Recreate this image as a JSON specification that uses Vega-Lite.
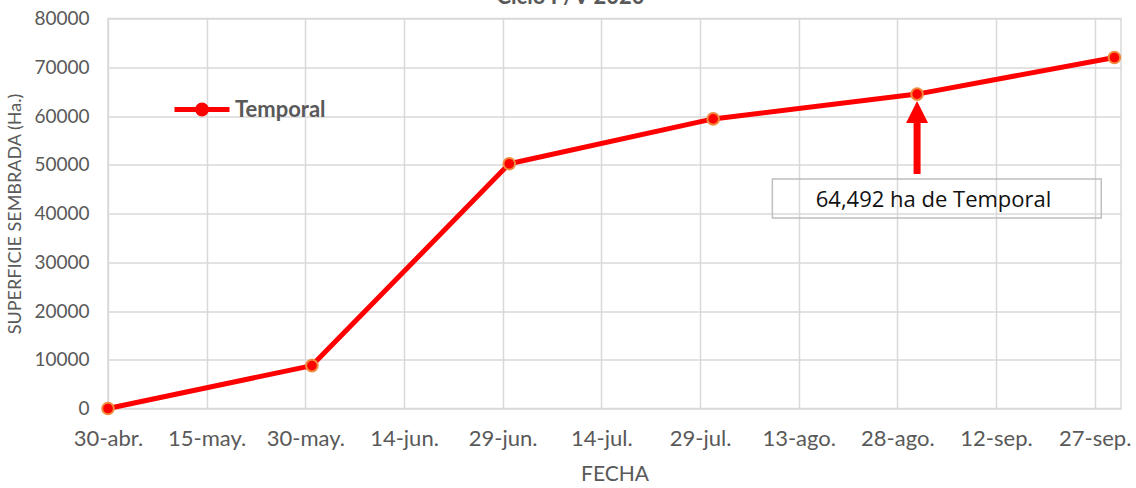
{
  "$schema": "https://vega.github.io/schema/vega-lite/v6.json",
  "autosize": "none",
  "width": 1013,
  "height": 390,
  "padding": {"left": 108, "top": 18.5, "right": 15, "bottom": 79.5},
  "background": "white",
  "config": {
    "view": {"stroke": "#D9D9D9", "strokeWidth": 1.5},
    "font": "Lato"
  },
  "title": {
    "text": "Ciclo P/V 2020",
    "font": "Lato",
    "fontSize": 22,
    "fontWeight": "bold",
    "color": "#595959",
    "anchor": "middle",
    "frame": "group",
    "dx": -44,
    "offset": -16,
    "baseline": "alphabetic"
  },
  "datasets": {
    "serie": [
      {"fecha": "2020-04-30", "superficie": 0, "serie": "Temporal"},
      {"fecha": "2020-05-31", "superficie": 8800, "serie": "Temporal"},
      {"fecha": "2020-06-30", "superficie": 50200, "serie": "Temporal"},
      {"fecha": "2020-07-31", "superficie": 59400, "serie": "Temporal"},
      {"fecha": "2020-08-31", "superficie": 64492, "serie": "Temporal"},
      {"fecha": "2020-09-30", "superficie": 72000, "serie": "Temporal"}
    ],
    "caja": [
      {"fecha": "2020-08-09", "fecha2": "2020-09-28", "superficie": 47100, "superficie2": 39100}
    ],
    "flecha": [
      {"fecha": "2020-08-31", "superficie": 58600, "superficie2": 48100}
    ],
    "punta": [
      {"fecha": "2020-08-31", "superficie": 60800}
    ],
    "nota": [
      {"fecha": "2020-09-02T12:00:00Z", "superficie": 42700, "etiqueta": "64,492 ha de Temporal"}
    ]
  },
  "encoding": {
    "x": {
      "field": "fecha",
      "type": "temporal",
      "title": "FECHA",
      "scale": {
        "type": "utc",
        "domain": [
          {"year": 2020, "month": 4, "date": 30, "utc": true},
          {"year": 2020, "month": 10, "date": 1, "utc": true}
        ]
      },
      "axis": {
        "values": [
          {"year": 2020, "month": 4, "date": 30, "utc": true},
          {"year": 2020, "month": 5, "date": 15, "utc": true},
          {"year": 2020, "month": 5, "date": 30, "utc": true},
          {"year": 2020, "month": 6, "date": 14, "utc": true},
          {"year": 2020, "month": 6, "date": 29, "utc": true},
          {"year": 2020, "month": 7, "date": 14, "utc": true},
          {"year": 2020, "month": 7, "date": 29, "utc": true},
          {"year": 2020, "month": 8, "date": 13, "utc": true},
          {"year": 2020, "month": 8, "date": 28, "utc": true},
          {"year": 2020, "month": 9, "date": 12, "utc": true},
          {"year": 2020, "month": 9, "date": 27, "utc": true}
        ],
        "labelExpr": "utcFormat(datum.value, '%d') + '-' + ['ene','feb','mar','abr','may','jun','jul','ago','sep','oct','nov','dic'][utcmonth(datum.value)] + '.'",
        "grid": true,
        "gridColor": "#D9D9D9",
        "gridWidth": 1.5,
        "domain": false,
        "ticks": false,
        "labelFont": "Lato",
        "labelFontSize": 22,
        "labelColor": "#595959",
        "labelPadding": 20,
        "labelFlush": false,
        "labelOverlap": false,
        "titleFont": "Lato",
        "titleFontSize": 21,
        "titleFontWeight": "normal",
        "titleColor": "#595959",
        "titlePadding": 14
      }
    },
    "y": {
      "field": "superficie",
      "type": "quantitative",
      "title": "SUPERFICIE SEMBRADA (Ha.)",
      "scale": {"domain": [0, 80000], "nice": false},
      "axis": {
        "values": [0, 10000, 20000, 30000, 40000, 50000, 60000, 70000, 80000],
        "format": "d",
        "grid": true,
        "gridColor": "#D9D9D9",
        "gridWidth": 1.5,
        "domain": false,
        "ticks": false,
        "labelFont": "Lato",
        "labelFontSize": 19,
        "labelColor": "#595959",
        "labelPadding": 19,
        "labelFlush": false,
        "titleFont": "Lato",
        "titleFontSize": 18,
        "titleFontWeight": "normal",
        "titleColor": "#595959",
        "titlePadding": 9
      }
    }
  },
  "layer": [
    {
      "data": {"name": "caja"},
      "mark": {"type": "rect", "fill": null, "fillOpacity": 0, "stroke": "#BFBFBF", "strokeWidth": 1.5},
      "encoding": {
        "x2": {"field": "fecha2"},
        "y2": {"field": "superficie2"}
      }
    },
    {
      "data": {"name": "serie"},
      "mark": {"type": "line", "strokeWidth": 5, "strokeCap": "round", "strokeJoin": "round"},
      "encoding": {
        "color": {
          "field": "serie",
          "type": "nominal",
          "scale": {"domain": ["Temporal"], "range": ["#FF0000"]},
          "legend": {
            "title": null,
            "orient": "none",
            "legendX": 64,
            "legendY": 61,
            "padding": 0,
            "symbolType": "M-1,0H1M-0.16,0A0.16,0.16,0,1,0,0.16,0A0.16,0.16,0,1,0,-0.16,0Z",
            "symbolSize": 3025,
            "symbolStrokeWidth": 5,
            "labelFont": "Lato",
            "labelFontSize": 22,
            "labelFontWeight": "bold",
            "labelColor": "#595959",
            "labelOffset": 3,
            "encode": {
              "symbols": {
                "update": {
                  "fill": {"value": "#FF0000"},
                  "stroke": {"value": "#FF0000"},
                  "strokeWidth": {"value": 5},
                  "opacity": {"value": 1}
                }
              }
            }
          }
        }
      }
    },
    {
      "data": {"name": "serie"},
      "mark": {"type": "point", "filled": true, "size": 135, "fill": "#FF0000", "stroke": "#F08A3C", "strokeWidth": 2, "opacity": 1}
    },
    {
      "data": {"name": "flecha"},
      "mark": {"type": "rule", "color": "#FF0000", "strokeWidth": 7, "strokeCap": "butt"},
      "encoding": {
        "y2": {"field": "superficie2"}
      }
    },
    {
      "data": {"name": "punta"},
      "mark": {"type": "point", "shape": "M0,-1L1,1L-1,1Z", "size": 484, "filled": true, "fill": "#FF0000", "strokeWidth": 0, "opacity": 1}
    },
    {
      "data": {"name": "nota"},
      "mark": {"type": "text", "font": "Open Sans", "fontSize": 22, "fontWeight": 500, "color": "#111111", "align": "center", "baseline": "middle"},
      "encoding": {
        "text": {"field": "etiqueta"}
      }
    }
  ]
}
